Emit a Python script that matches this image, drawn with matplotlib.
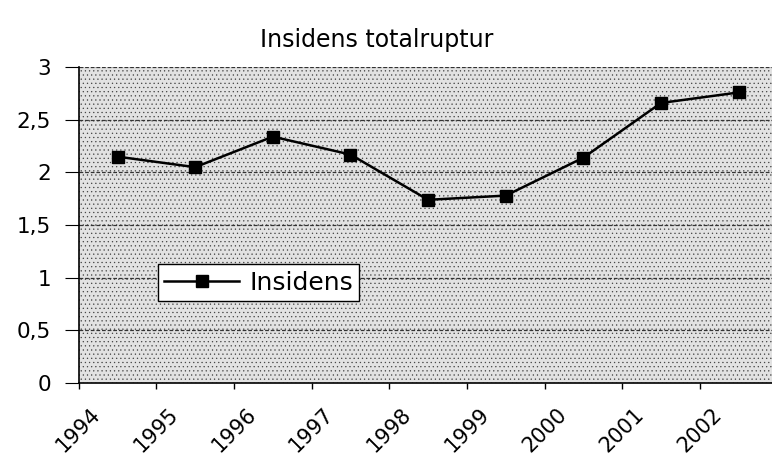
import matplotlib
matplotlib.use("Agg")
import matplotlib.pyplot as plt
from matplotlib.ticker import FuncFormatter, MultipleLocator
import matplotlib.transforms as mtransforms
import numpy as np

years = ["1994", "1995", "1996", "1997", "1998", "1999", "2000", "2001", "2002"]
insidens = [2.15, 2.05, 2.34, 2.17, 1.74, 1.78, 2.14, 2.66, 2.76]

plt.rcParams['font.family'] = ['DejaVu Sans']
plt.rcParams['hatch.linewidth'] = 0.4
fig = plt.figure(figsize=(7.72, 4.57), dpi=100)
ax = fig.add_axes([0.102, 0.162, 0.898, 0.691])

ax.set_facecolor('#e2e2e2')
ax.add_patch(plt.Rectangle((0, 0), 1, 1, transform=ax.transAxes, facecolor='#e2e2e2',
                           edgecolor='#444444', hatch='....', lw=0, zorder=0))

x = np.arange(len(years)) + 0.5
ax.plot(x, insidens, color='black', lw=1.8, marker='s', markersize=8.5,
        label='Insidens', zorder=3)

ax.set_xlim(0, 8.93)
ax.set_ylim(0, 3)
ax.yaxis.set_major_locator(MultipleLocator(0.5))
ax.yaxis.set_major_formatter(FuncFormatter(lambda v, p: ('%g' % v).replace('.', ',')))
ax.set_xticks(np.arange(len(years)))
ax.set_xticklabels(years, rotation=45, ha='center', va='top', fontsize=15)
offset = mtransforms.ScaledTranslation(-9 / 100, 0, fig.dpi_scale_trans)
for lab in ax.get_xticklabels():
    lab.set_transform(lab.get_transform() + offset)
ax.tick_params(axis='x', length=4, width=1, pad=11)
ax.tick_params(axis='y', length=10, width=0.8, labelsize=15.5, pad=10)

for v in np.arange(0.5, 3.01, 0.5):
    ax.axhline(v, color='#333333', lw=0.9, ls=(0, (3, 1.5)), zorder=1)

for s in ['top', 'right']:
    ax.spines[s].set_visible(False)
ax.spines['left'].set_linewidth(1.2)
ax.spines['bottom'].set_linewidth(1.2)

leg = ax.legend(loc='lower left', bbox_to_anchor=(0.114, 0.26), fontsize=18,
                frameon=True, fancybox=False, edgecolor='black', framealpha=1,
                handlelength=3.0, borderpad=0.25, handletextpad=0.4, borderaxespad=0)
leg.get_frame().set_linewidth(1.0)

fig.text(0.488, 0.912, 'Insidens totalruptur', ha='center', va='center', fontsize=17)

fig.savefig('out.png', dpi=100)
